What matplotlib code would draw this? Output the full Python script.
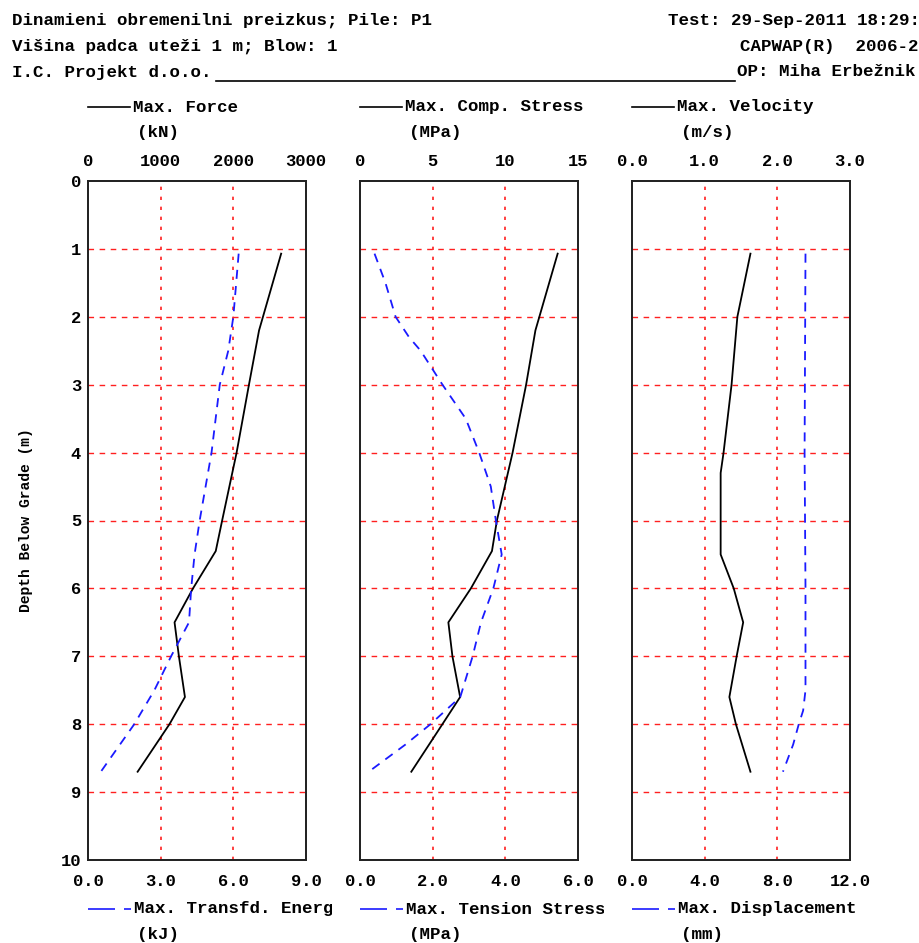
import matplotlib
matplotlib.use("Agg")
import matplotlib.pyplot as plt
from matplotlib.lines import Line2D
from matplotlib.transforms import Bbox, TransformedBbox

plt.rcParams['font.family'] = ['Liberation Mono', 'DejaVu Sans Mono']
plt.rcParams['font.weight'] = 'bold'

# ---------------- data ----------------
depth_force = [1.07, 2.2, 3.0, 4.0, 5.0, 5.45, 6.0, 6.5, 7.0, 7.6, 8.0, 8.7]
max_force = [2658, 2354, 2215, 2045, 1846, 1758, 1445, 1191, 1251, 1334, 1121, 683]

depth_energy = [1.07, 2.0, 2.5, 3.0, 4.0, 5.0, 5.5, 6.0, 6.5, 7.0, 7.5, 8.0, 8.7]
max_energy = [6.22, 6.0, 5.79, 5.44, 5.1, 4.61, 4.4, 4.26, 4.17, 3.43, 2.74, 1.91, 0.53]

depth_comp = [1.07, 2.2, 3.0, 4.0, 5.0, 5.45, 6.0, 6.5, 7.0, 7.6, 8.0, 8.7]
max_comp = [13.6, 12.07, 11.43, 10.5, 9.42, 9.08, 7.63, 6.08, 6.36, 6.89, 5.67, 3.53]

depth_tens = [1.07, 1.5, 2.0, 2.3, 2.5, 3.0, 3.5, 4.0, 4.5, 5.0, 5.5, 6.0, 6.5, 7.0, 7.6, 8.0, 8.3, 8.7]
max_tens = [0.40, 0.70, 0.98, 1.35, 1.67, 2.27, 2.91, 3.28, 3.60, 3.74, 3.90, 3.67, 3.33, 3.10, 2.76, 1.94, 1.25, 0.24]

depth_vel = [1.07, 2.0, 3.0, 4.0, 4.3, 5.0, 5.5, 6.0, 6.5, 7.0, 7.6, 8.0, 8.7]
max_vel = [1.63, 1.45, 1.37, 1.26, 1.22, 1.22, 1.22, 1.40, 1.53, 1.44, 1.34, 1.43, 1.63]

depth_disp = [1.07, 4.0, 6.0, 7.5, 7.8, 8.0, 8.3, 8.7]
max_disp = [9.55, 9.5, 9.55, 9.55, 9.42, 9.18, 8.87, 8.31]

depth_ticks = [0, 1, 2, 3, 4, 5, 6, 7, 8, 9, 10]

top_ticks = [[0, 1000, 2000, 3000], [0, 5, 10, 15], [0.0, 1.0, 2.0, 3.0]]
top_labels = [["0", "1000", "2000", "3000"], ["0", "5", "10", "15"], ["0.0", "1.0", "2.0", "3.0"]]
bot_ticks = [[0, 3, 6, 9], [0, 2, 4, 6], [0, 4, 8, 12]]
bot_labels = [["0.0", "3.0", "6.0", "9.0"], ["0.0", "2.0", "4.0", "6.0"], ["0.0", "4.0", "8.0", "12.0"]]

top_names = ["Max. Force", "Max. Comp. Stress", "Max. Velocity"]
top_units = ["(kN)", "(MPa)", "(m/s)"]
bot_names = ["Max. Transfd. Energy", "Max. Tension Stress", "Max. Displacement"]
bot_units = ["(kJ)", "(MPa)", "(mm)"]

black_series = [(max_force, depth_force), (max_comp, depth_comp), (max_vel, depth_vel)]
blue_series = [(max_energy, depth_energy), (max_tens, depth_tens), (max_disp, depth_disp)]

# ---------------- layout ----------------
W, H = 920, 943
fig = plt.figure(figsize=(W / 100, H / 100), dpi=100)
fig.patch.set_facecolor('white')

def fx(x):
    return x / W

def fy(y):
    return 1 - y / H

panel_left = [88, 360, 632]
panel_w = 218
top_px, bot_px = 181, 860

BLUE = '#1a1aff'
RED = '#ff2020'
FS_TICK = 12.3
FS_LEG = 12.6

for i in range(3):
    L = panel_left[i]
    ax = fig.add_axes([fx(L), fy(bot_px), panel_w / W, (bot_px - top_px) / H])
    ax2 = ax.twiny()

    # top axis: black series
    ax.set_xlim(top_ticks[i][0], top_ticks[i][-1])
    ax.set_ylim(10, 0)
    ax.xaxis.tick_top()
    ax.set_xticks(top_ticks[i])
    ax.set_xticklabels(top_labels[i], fontsize=FS_TICK, fontweight='bold')
    ax.tick_params(axis='x', length=0, pad=9)
    ax.set_yticks(depth_ticks)
    if i == 0:
        ax.set_yticklabels([str(d) for d in depth_ticks], fontsize=FS_TICK, fontweight='bold')
        ax.tick_params(axis='y', length=0, pad=5)
        ax.set_ylabel("Depth Below Grade (m)", fontsize=10.5, fontweight='bold', labelpad=20)
    else:
        ax.set_yticklabels([])
        ax.tick_params(axis='y', length=0)

    # grid
    for t in top_ticks[i][1:-1]:
        ax.axvline(t, color=RED, lw=1.2, linestyle=(0, (2, 4)), zorder=1)
    for d in depth_ticks[1:-1]:
        ax.axhline(d, color=RED, lw=1.0, linestyle=(0, (4, 4)), zorder=1)

    xs, ys = black_series[i]
    ax.plot(xs, ys, color='black', lw=1.3, zorder=3)

    # bottom axis: blue series
    ax2.set_xlim(bot_ticks[i][0], bot_ticks[i][-1])
    ax2.xaxis.tick_bottom()
    ax2.xaxis.set_label_position('bottom')
    ax2.set_xticks(bot_ticks[i])
    ax2.set_xticklabels(bot_labels[i], fontsize=FS_TICK, fontweight='bold')
    ax2.tick_params(axis='x', length=0, pad=10)
    bx, by = blue_series[i]
    ax2.plot(bx, by, color=BLUE, lw=1.3, linestyle=(0, (5, 4)), zorder=3)

    for a in (ax, ax2):
        for s in a.spines.values():
            s.set_linewidth(1.3)
            s.set_color('#222222')

    # top legend
    fig.add_artist(Line2D([fx(L), fx(L + 42)], [fy(107), fy(107)], color='black', lw=1.2))
    fig.text(fx(L + 45), fy(107), top_names[i], fontsize=FS_LEG, fontweight='bold', va='center', ha='left')
    fig.text(fx(L + 49), fy(132), top_units[i], fontsize=FS_LEG, fontweight='bold', va='center', ha='left')

    # bottom legend
    fig.add_artist(Line2D([fx(L), fx(L + 43)], [fy(909), fy(909)], color=BLUE, lw=1.2,
                          dashes=(16.2, 5.4, 4.2, 100)))
    t = fig.text(fx(L + 46), fy(909), bot_names[i], fontsize=FS_LEG, fontweight='bold', va='center', ha='left')
    clip = TransformedBbox(Bbox([[fx(L - 5), 0], [fx(L + 244), 1]]), fig.transFigure)
    t.set_clip_box(clip)
    t.set_clip_on(True)
    fig.text(fx(L + 49), fy(935), bot_units[i], fontsize=FS_LEG, fontweight='bold', va='center', ha='left')

# header
fs_h = 12.6
fig.text(fx(12), fy(20), "Dinamieni obremenilni preizkus; Pile: P1", fontsize=fs_h, fontweight='bold', va='center')
fig.text(fx(12), fy(46), "Višina padca uteži 1 m; Blow: 1", fontsize=fs_h, fontweight='bold', va='center')
fig.text(fx(12), fy(72), "I.C. Projekt d.o.o.", fontsize=fs_h, fontweight='bold', va='center')
fig.add_artist(Line2D([fx(216), fx(735)], [fy(81), fy(81)], color='black', lw=1.2))
fig.text(fx(668), fy(20), "Test: 29-Sep-2011 18:29:", fontsize=fs_h, fontweight='bold', va='center')
fig.text(fx(740), fy(46), "CAPWAP(R)  2006-2", fontsize=fs_h, fontweight='bold', va='center')
fig.text(fx(737), fy(72), "OP: Miha Erbežnik", fontsize=fs_h, fontweight='bold', va='center')

fig.savefig("out.png", dpi=100)
